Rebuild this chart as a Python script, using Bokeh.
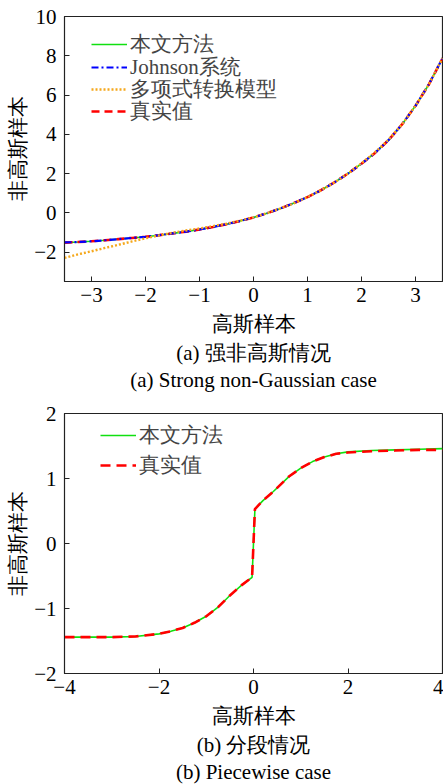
from bokeh.plotting import figure
from bokeh.layouts import column
from bokeh.models import (FixedTicker, CustomJSTickFormatter, Legend, LegendItem,
                          Title, Range1d)
from bokeh.embed import file_html
from bokeh.resources import INLINE

# ---------------- data: panel (a) ----------------
x_a = [-3.5, -3.25, -3.0, -2.75, -2.5, -2.25, -2.0, -1.75, -1.5, -1.25, -1.0,
       -0.75, -0.5, -0.25, 0.0, 0.25, 0.5, 0.75, 1.0, 1.25, 1.5, 1.75, 2.0,
       2.25, 2.5, 2.75, 3.0, 3.25, 3.5]
true_a = [-1.52, -1.49, -1.45, -1.40, -1.34, -1.28, -1.22, -1.14, -1.05, -0.96,
          -0.85, -0.72, -0.58, -0.42, -0.24, -0.02, 0.22, 0.50, 0.80, 1.15,
          1.55, 2.00, 2.50, 3.05, 3.70, 4.50, 5.45, 6.55, 7.86]
ours_a = [-1.52, -1.49, -1.45, -1.40, -1.34, -1.28, -1.22, -1.14, -1.05, -0.96,
          -0.85, -0.72, -0.58, -0.42, -0.24, -0.02, 0.22, 0.50, 0.80, 1.15,
          1.55, 2.00, 2.50, 3.05, 3.70, 4.50, 5.45, 6.55, 7.86]
johnson_a = [-1.51, -1.49, -1.45, -1.40, -1.34, -1.28, -1.22, -1.14, -1.05, -0.96,
             -0.85, -0.72, -0.58, -0.42, -0.24, -0.02, 0.22, 0.50, 0.80, 1.15,
             1.55, 2.00, 2.50, 3.05, 3.70, 4.50, 5.45, 6.56, 7.88]
poly_a = [-2.30, -2.12, -1.96, -1.79, -1.63, -1.46, -1.30, -1.15, -1.02, -0.90,
          -0.80, -0.68, -0.55, -0.40, -0.23, -0.02, 0.22, 0.49, 0.80, 1.15,
          1.55, 2.00, 2.52, 3.08, 3.72, 4.50, 5.45, 6.55, 7.88]
xticks_a = [-3, -2, -1, 0, 1, 2, 3]
yticks_a = [-2, 0, 2, 4, 6, 8, 10]

# ---------------- data: panel (b) ----------------
x_b = [-4.0, -3.5, -3.0, -2.5, -2.0, -1.75, -1.5, -1.25, -1.0, -0.75, -0.5,
       -0.25, -0.03, 0.03, 0.2, 0.42, 0.75, 1.0, 1.25, 1.5, 1.75, 2.0, 2.5,
       3.0, 3.5, 4.0]
true_b = [-1.44, -1.44, -1.44, -1.43, -1.39, -1.35, -1.30, -1.22, -1.12, -0.98,
          -0.80, -0.64, -0.52, 0.53, 0.66, 0.80, 1.03, 1.16, 1.26, 1.33, 1.38,
          1.40, 1.42, 1.43, 1.44, 1.44]
ours_b = [-1.44, -1.44, -1.44, -1.43, -1.39, -1.35, -1.30, -1.22, -1.12, -0.98,
          -0.80, -0.64, -0.52, 0.53, 0.66, 0.80, 1.03, 1.16, 1.26, 1.33, 1.38,
          1.41, 1.43, 1.44, 1.45, 1.46]
xticks_b = [-4, -2, 0, 2, 4]
yticks_b = [-2, -1, 0, 1, 2]

FONT = "Liberation Serif"
FS = "21px"

MINUS = CustomJSTickFormatter(code="""
    const s = Number.isInteger(tick) ? tick.toString() : tick.toFixed(1);
    return s.replace('-', '\u2212');
""")


def base_fig(xr, yr, xt, yt, top, bottom):
    p = figure(width=443, height=392, x_range=Range1d(*xr), y_range=Range1d(*yr),
               output_backend="svg", toolbar_location=None,
               min_border_left=64, min_border_right=1,
               min_border_top=top, min_border_bottom=bottom)
    p.grid.visible = False
    p.outline_line_color = "#222222"
    p.outline_line_width = 1.2
    for ax, ticks in ((p.xaxis[0], xt), (p.yaxis[0], yt)):
        ax.ticker = FixedTicker(ticks=ticks, minor_ticks=[])
        ax.formatter = MINUS
        ax.major_tick_in = 5
        ax.major_tick_out = 0
        ax.minor_tick_line_color = None
        ax.axis_line_color = "#222222"
        ax.major_tick_line_color = "#222222"
        ax.major_label_text_font = FONT
        ax.major_label_text_font_size = FS
        ax.major_label_text_color = "black"
        ax.axis_label_text_font = FONT
        ax.axis_label_text_font_size = FS
        ax.axis_label_text_font_style = "normal"
        ax.axis_label_text_color = "black"
    p.xaxis.major_label_standoff = 6
    p.yaxis.major_label_standoff = 8
    p.xaxis.axis_label_standoff = 7
    p.yaxis.axis_label_standoff = 1
    p.xaxis.axis_label = "高斯样本"
    p.yaxis.axis_label = "非高斯样本"
    return p


def add_caption(p, text):
    t = Title(text=text, align="center", text_font=FONT, text_font_size=FS,
              text_font_style="normal", text_color="black", standoff=1)
    p.add_layout(t, "below")


def one_legend(p, label, renderer, loc):
    leg = Legend(items=[LegendItem(label=label, renderers=[renderer])],
                 location=loc, margin=0, padding=0, spacing=0,
                 glyph_width=36, glyph_height=22, label_height=22, label_standoff=3,
                 label_text_font=FONT, label_text_font_size=FS,
                 border_line_color=None, background_fill_alpha=0)
    p.add_layout(leg, "center")


# ---------------- panel (a) ----------------
p1 = base_fig((-3.5, 3.5), (-3.5, 10), xticks_a, yticks_a, 16, 111)
r_g = p1.line(x_a, ours_a, line_color="#10e010", line_width=1.6)
r_r = p1.line(x_a, true_a, line_color="#ff0000", line_width=2.6, line_dash="8 5")
r_b = p1.line(x_a, johnson_a, line_color="#0000ff", line_width=2.2, line_dash="7 3 2 3")
r_o = p1.line(x_a, poly_a, line_color="#f5a81c", line_width=2.4, line_dash="2 2")
one_legend(p1, "本文方法", r_g, (27, 223))
one_legend(p1, "Johnson系统", r_b, (27, 200))
one_legend(p1, "多项式转换模型", r_o, (27, 178))
one_legend(p1, "真实值", r_r, (27, 156))
add_caption(p1, "(a) 强非高斯情况")
add_caption(p1, "(a) Strong non-Gaussian case")

# ---------------- panel (b) ----------------
p2 = base_fig((-4, 4), (-2, 2), xticks_b, yticks_b, 21, 106)
s_g = p2.line(x_b, ours_b, line_color="#10e010", line_width=1.6)
s_r = p2.line(x_b, true_b, line_color="#ff0000", line_width=2.6, line_dash="10 6")
one_legend(p2, "本文方法", s_g, (36, 224))
one_legend(p2, "真实值", s_r, (36, 194))
add_caption(p2, "(b) 分段情况")
add_caption(p2, "(b) Piecewise case")

layout = column(p1, p2, spacing=0)
open("out.html", "w").write(file_html(layout, INLINE))
